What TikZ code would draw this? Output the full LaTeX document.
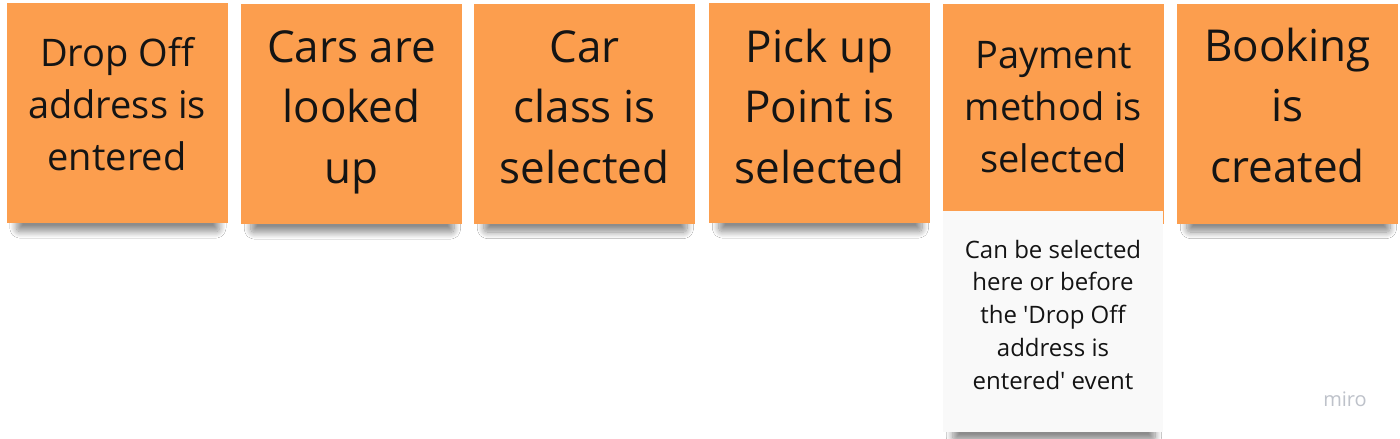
\documentclass[tikz,border=0pt]{standalone}
\usepackage{fontspec}
\setmainfont{Open Sans}
\usetikzlibrary{shadows.blur}
\definecolor{stickyorange}{RGB}{252,158,78}
\definecolor{stickywhite}{RGB}{249,249,249}
\definecolor{inkblack}{RGB}{20,20,20}
\definecolor{logogray}{RGB}{190,194,202}
\begin{document}
\begin{tikzpicture}[
      x=1pt, y=-1pt,
      sticky/.style={fill=stickyorange,minimum width=221pt,minimum height=220pt,inner sep=0pt,
        blur shadow={shadow xshift=1pt,shadow yshift=-19pt,shadow scale=0.92,
          shadow opacity=45,shadow blur radius=7pt,shadow blur extra rounding=4pt,shadow blur steps=16}},
      hint/.style={sticky,fill=stickywhite,minimum width=220pt,minimum height=221pt},
      small/.style={anchor=base,align=center,text=inkblack,font=\fontsize{38}{52}\selectfont},
      large/.style={anchor=base,align=center,text=inkblack,font=\fontsize{44}{60.5}\selectfont},
      remark/.style={anchor=base,align=center,text=inkblack,font=\fontsize{24}{32.75}\selectfont}
    ]
    \useasboundingbox[fill=white] (0,0) rectangle (1400,439);
    % Draw the sticky notes.
    \node[sticky] (drop)     at (117,113)    {};
    \node[sticky] (lookup)   at (351.5,114)  {};
    \node[sticky] (carclass) at (584.5,113.5) {};
    \node[sticky] (pickup)   at (819.5,113)  {};
    \node[sticky] (payment)  at (1053.5,113.5) {};
    \node[sticky] (booking)  at (1287.5,113.5) {};
    % Draw the white note under the payment event.
    \node[hint] (remark) at (1053,321.5) {};
    % Write the events (base = last line).
    \node[small] (droptext)     at (117,170)    {Drop Off\\address is\\entered};
    \node[large] (lookuptext)   at (351.5,183)  {Cars are\\looked\\up};
    \node[large] (carclasstext) at (584.5,183)  {Car\\class is\\selected};
    \node[large] (pickuptext)   at (819.5,183)  {Pick up\\Point is\\selected};
    \node[small] (paymenttext)  at (1053.5,172) {Payment\\method is\\selected};
    \node[large] (bookingtext)  at (1287.5,182) {Booking\\is\\created};
    \node[remark] (remarktext)  at (1053,389)   {Can be selected\\here or before\\the \textquotesingle Drop Off\\address is\\entered\textquotesingle{} event};
    % Board logo.
    \node[anchor=base,text=logogray,font=\fontsize{20}{24}\selectfont] (logo) at (1345,406) {miro};
\end{tikzpicture}
\end{document}
